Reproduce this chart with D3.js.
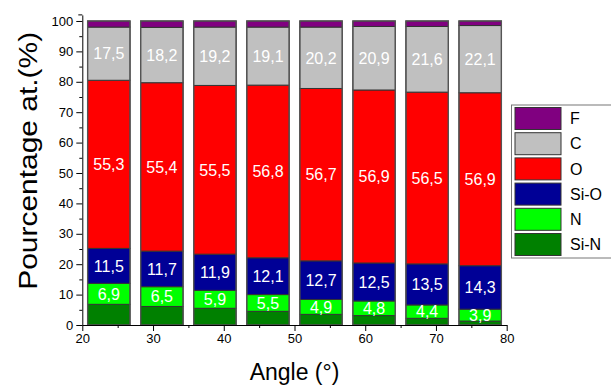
<!DOCTYPE html>
<html>
<head>
<meta charset="utf-8">
<script src="https://cdn.jsdelivr.net/npm/d3@7"></script>
<style>
  body { margin: 0; background: #fff; }
  text { font-family: "Liberation Sans", Arial, sans-serif; }
</style>
</head>
<body>
<div id="chart"></div>
<script>
// bar centres on the angle axis
const angles = [23.75, 31.25, 38.75, 46.25, 53.75, 61.25, 68.75, 76.25];
const keys = ["Si-N", "N", "Si-O", "O", "C", "F"];
const siN = [6.8, 6.1, 5.5, 4.5, 3.5, 3.1, 2.2, 1.3];
const nVal = [6.9, 6.5, 5.9, 5.5, 4.9, 4.8, 4.4, 3.9];
const siO = [11.5, 11.7, 11.9, 12.1, 12.7, 12.5, 13.5, 14.3];
const oVal = [55.3, 55.4, 55.5, 56.8, 56.7, 56.9, 56.5, 56.9];
const cVal = [17.5, 18.2, 19.2, 19.1, 20.2, 20.9, 21.6, 22.1];
const fVal = [2.0, 2.1, 2.0, 2.0, 2.0, 1.8, 1.8, 1.5];
const labelled = ["N", "Si-O", "O", "C"];
const colors = {
    "F": "#800080",
    "C": "#c0c0c0",
    "O": "#ff0000",
    "Si-O": "#000096",
    "N": "#00ff00",
    "Si-N": "#008000"
};

const W = 611, H = 389;
const svg = d3.select("#chart").append("svg")
    .attr("width", W)
    .attr("height", H);

const x = d3.scaleLinear().domain([20, 80]).range([82.3, 506.7]);
const y = d3.scaleLinear().domain([0, 102]).range([325, 14.9]);

const rows = angles.map((a, i) => ({
    angle: a,
    "Si-N": siN[i], "N": nVal[i], "Si-O": siO[i],
    "O": oVal[i], "C": cVal[i], "F": fVal[i]
}));
const series = d3.stack().keys(keys)(rows);
const barHalf = 3;

const groups = svg.append("g").selectAll("g")
    .data(series)
    .join("g")
    .attr("fill", d => colors[d.key]);

groups.selectAll("rect")
    .data(d => d)
    .join("rect")
    .attr("x", d => x(d.data.angle - barHalf))
    .attr("width", d => x(d.data.angle + barHalf) - x(d.data.angle - barHalf))
    .attr("y", d => y(d[1]))
    .attr("height", d => y(d[0]) - y(d[1]))
    .attr("stroke", "#333")
    .attr("stroke-width", 1);

// outer outline of each bar
svg.append("g").selectAll("rect")
    .data(rows)
    .join("rect")
    .attr("x", d => x(d.angle - barHalf))
    .attr("width", d => x(d.angle + barHalf) - x(d.angle - barHalf))
    .attr("y", d => y(d3.sum(keys, k => d[k])))
    .attr("height", d => y(0) - y(d3.sum(keys, k => d[k])))
    .attr("fill", "none")
    .attr("stroke", "#555")
    .attr("stroke-width", 1.3);

// value labels
for (const s of series) {
    if (!labelled.includes(s.key)) continue;
    svg.append("g").selectAll("text")
        .data(s)
        .join("text")
        .attr("x", d => x(d.data.angle))
        .attr("y", d => (y(d[0]) + y(d[1])) / 2)
        .attr("dy", "0.36em")
        .attr("text-anchor", "middle")
        .attr("fill", "#fff")
        .style("font-size", "16px")
        .text(d => d3.format(".1f")(d[1] - d[0]).replace(".", ","));
}

// axes
svg.append("g")
    .attr("transform", `translate(${x(20)},0)`)
    .call(d3.axisLeft(y).tickValues(d3.range(0, 101, 10)).tickSize(6).tickSizeOuter(0).tickPadding(3));
svg.append("g")
    .attr("transform", `translate(${x(20)},0)`)
    .call(d3.axisLeft(y).tickValues(d3.range(5, 100, 10)).tickSize(3).tickFormat("").tickSizeOuter(0))
    .select(".domain").remove();
svg.append("line")
    .attr("x1", x(20) - 4).attr("x2", x(20))
    .attr("y1", y(102)).attr("y2", y(102))
    .attr("stroke", "#000");

svg.append("g")
    .attr("transform", `translate(0,${y(0)})`)
    .call(d3.axisBottom(x).tickValues(d3.range(20, 81, 10)).tickSize(6).tickSizeOuter(0).tickPadding(3));
svg.append("g")
    .attr("transform", `translate(0,${y(0)})`)
    .call(d3.axisBottom(x).tickValues(d3.range(25, 80, 10)).tickSize(3).tickFormat("").tickSizeOuter(0))
    .select(".domain").remove();

svg.selectAll(".tick text")
    .style("font-size", "13px")
    .style("font-family", "'Liberation Sans', Arial, sans-serif")
    .attr("fill", "#000");

svg.append("text")
    .attr("x", (x(20) + x(80)) / 2)
    .attr("y", 380)
    .attr("text-anchor", "middle")
    .style("font-size", "23px")
    .text("Angle (°)");

svg.append("text")
    .attr("transform", `translate(37,${y(54)}) rotate(-90)`)
    .attr("text-anchor", "middle")
    .style("font-size", "25px")
    .attr("textLength", 258)
    .attr("lengthAdjust", "spacingAndGlyphs")
    .text("Pourcentage at.(%)");

// legend
const legend = svg.append("g").attr("transform", "translate(511.5,105)");
legend.append("rect")
    .attr("width", 120).attr("height", 153)
    .attr("fill", "#fff")
    .attr("stroke", "#777");
const legendKeys = keys.slice().reverse();
const item = legend.selectAll("g.item")
    .data(legendKeys)
    .join("g")
    .attr("class", "item")
    .attr("transform", (d, i) => `translate(3.5,${2.5 + i * 25.2})`);
item.append("rect")
    .attr("width", 46).attr("height", 22)
    .attr("fill", d => colors[d])
    .attr("stroke", "#333");
item.append("text")
    .attr("x", 55)
    .attr("y", 11)
    .attr("dy", "0.36em")
    .style("font-size", "16px")
    .text(d => d);
</script>
</body>
</html>
